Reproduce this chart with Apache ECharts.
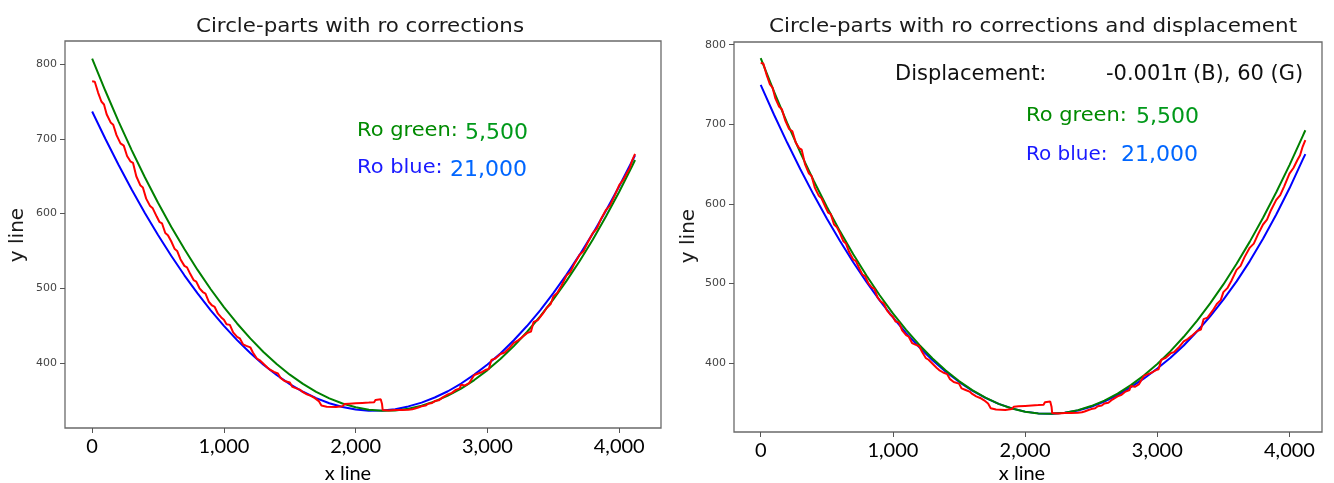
<!DOCTYPE html>
<html>
<head>
<meta charset="utf-8">
<script src="https://cdn.jsdelivr.net/npm/echarts@6/dist/echarts.min.js"></script>
<style>
  html, body { margin: 0; padding: 0; background: #fff; }
  #chart { width: 1334px; height: 483px; }
</style>
</head>
<body>
<div id="chart"></div>
<script>
// x positions of the fitted circle parts
var fitX = [0,100,200,300,400,500,600,700,800,900,1000,1100,1200,1300,1400,1500,1600,1700,1800,1900,
  2000,2100,2200,2300,2400,2500,2600,2700,2800,2900,3000,3100,3200,3300,3400,3500,3600,3700,3800,3900,4000,4100,4120];

// left panel: ro corrections only
var leftGreen = [807.5,764.4,723.5,685.0,648.7,614.5,582.5,552.5,524.6,498.7,474.8,452.9,432.9,414.8,398.7,384.4,372.1,361.4,352.7,345.8,
  340.7,337.5,336.1,336.5,338.7,342.7,348.6,356.3,365.8,377.2,390.5,405.6,422.6,441.5,462.3,485.1,509.9,536.6,565.4,596.3,629.3,664.4,671.7];
var leftBlue = [736.7,700.1,665.3,632.2,600.9,571.3,543.5,517.4,493.1,470.5,449.7,430.6,413.3,397.7,383.9,371.8,361.5,352.9,346.1,341.0,
  337.7,336.1,336.3,338.2,341.9,347.0,353.8,362.2,372.5,384.5,398.0,413.0,430.5,449.5,470.5,493.5,518.5,545.0,573.5,604.0,636.5,671.0,678.0];

// right panel: ro corrections and displacement
var rightGreen = [783.0,741.2,701.7,664.4,629.3,596.3,565.4,536.6,509.9,485.1,462.3,441.5,422.6,405.6,390.5,377.2,365.8,356.3,348.6,342.7,
  338.7,336.5,336.1,337.5,340.7,345.8,352.7,361.4,372.1,384.4,398.7,414.8,432.9,452.9,474.8,498.7,524.6,552.5,582.5,614.5,648.7,685.0,692.5];
var rightBlue = [749.4,712.3,677.0,643.5,611.6,581.6,553.2,526.6,501.7,478.6,457.2,437.5,419.6,403.4,389.0,376.3,365.3,356.1,348.6,342.9,
  338.8,336.6,336.0,337.3,340.3,345.0,351.5,359.5,369.5,380.5,393.0,406.5,422.0,439.5,458.5,479.5,502.5,528.0,556.0,586.5,619.5,655.5,662.5];

// measured line (red), same in both panels
var redX = [0,20,45,70,90,110,140,160,185,215,240,265,290,310,335,365,385,410,440,460,490,510,530,555,575,600,625,645,670,700,
  720,745,770,790,815,840,860,885,910,930,955,980,1000,1020,1045,1070,1100,1120,1145,1170,1200,1220,1250,1270,1300,1330,1350,
  1380,1410,1430,1460,1500,1520,1550,1580,1600,1630,1660,1690,1720,1740,1780,1850,1900,1915,1950,2000,2050,2100,2140,2150,2190,
  2200,2205,2250,2300,2350,2400,2430,2450,2475,2500,2530,2550,2580,2600,2630,2660,2700,2730,2760,2790,2800,2830,2860,2900,2930,
  2960,2990,3010,3030,3060,3100,3130,3160,3200,3230,3260,3300,3330,3350,3380,3420,3450,3480,3500,3530,3560,3600,3630,3660,3700,
  3730,3760,3800,3830,3860,3900,3930,3960,4000,4030,4060,4080,4100,4120];
var redY = [777,776.5,762,750,746,733,722,719,705,694,691,677,670,668,650,638,635,620,610,607,596,589,587,574,571,563,553,550,539,530,
  528,519,511,509,500,495,493,482,477,475,466,461,458,452,451,441,435,433,425,423,421,414,406,404,399,394,391,
  388,386,380,376,374,368,366,364,361,358,356,353,349,343,341.5,341,342,345,345.5,346,346.5,347,347.5,350.5,351.5,
  345,337,336.5,337,337,337.5,338,339,340.5,342,343,345.5,346.5,349,350,354,358,360,364,366,371,370,373,384,386,
  388,391,392,404,406,412,414,419,427,430,434,440,442,455,457,466,474,479,489,494,503,517,522,533,545,
  550,561,574,580,592,605,611,622,638,645,655,661,672,680];

var xTicks = [0, 1000, 2000, 3000, 4000];
var xTickLabels = ['0', '1,000', '2,000', '3,000', '4,000'];
var yTicks = [400, 500, 600, 700, 800];

function pairs(xs, ys) {
  return xs.map(function (x, i) { return [x, ys[i]]; });
}

var chart = echarts.init(document.getElementById('chart'), null, { renderer: 'canvas' });

function xAxisFor(idx, min, max) {
  return {
    gridIndex: idx, type: 'value', min: min, max: max,
    axisLine: { show: false, onZero: false },
    splitLine: { show: false },
    axisTick: { show: true, customValues: xTicks, length: 5, lineStyle: { color: '#555', width: 1 } },
    axisLabel: {
      customValues: xTicks, margin: 9, color: '#000', fontFamily: 'Lato', fontSize: 20,
      formatter: function (v) { return xTickLabels[xTicks.indexOf(v)]; }
    }
  };
}
function yAxisFor(idx, min, max) {
  return {
    gridIndex: idx, type: 'value', min: min, max: max,
    axisLine: { show: false, onZero: false },
    splitLine: { show: false },
    axisTick: { show: true, customValues: yTicks, length: 5, lineStyle: { color: '#555', width: 1 } },
    axisLabel: { customValues: yTicks, margin: 8, color: '#444', fontFamily: 'DejaVu Sans', fontSize: 11 }
  };
}
function line(idx, xs, ys, color) {
  return {
    type: 'line', xAxisIndex: idx, yAxisIndex: idx, data: pairs(xs, ys),
    showSymbol: false, symbol: 'none', smooth: false,
    lineStyle: { color: color, width: 2 }
  };
}
function txt(x, y, s, color, size, font, align, sx) {
  return {
    type: 'text', x: x, y: y, scaleX: sx || 1,
    style: { text: s, fill: color, fontSize: size, fontFamily: font || 'DejaVu Sans',
      align: align || 'left', verticalAlign: 'middle' }
  };
}

var option = {
  animation: false,
  backgroundColor: '#fff',
  grid: [
    { left: 65, top: 41, width: 596, height: 387, show: true, borderColor: '#6a6a6a', borderWidth: 1.3,
      containLabel: false, outerBoundsMode: 'none' },
    { left: 734, top: 42, width: 588, height: 390, show: true, borderColor: '#6a6a6a', borderWidth: 1.3,
      containLabel: false, outerBoundsMode: 'none' }
  ],
  xAxis: [xAxisFor(0, -206, 4317), xAxisFor(1, -202, 4246)],
  yAxis: [yAxisFor(0, 313, 831), yAxisFor(1, 313.2, 803.4)],
  series: [
    line(0, fitX, leftBlue, '#0000ff'),
    line(0, fitX, leftGreen, '#008000'),
    line(0, redX, redY, '#ff0000'),
    line(1, fitX, rightBlue, '#0000ff'),
    line(1, fitX, rightGreen, '#008000'),
    line(1, redX, redY, '#ff0000')
  ],
  graphic: [
    txt(360, 27, 'Circle-parts with ro corrections', '#1a1a1a', 19.5, 'DejaVu Sans', 'center', 1.095),
    txt(1033, 27, 'Circle-parts with ro corrections and displacement', '#1a1a1a', 19.5, 'DejaVu Sans', 'center', 1.1),
    txt(348, 474, 'x line', '#000', 20, 'Lato', 'center'),
    txt(1022, 474, 'x line', '#000', 20, 'Lato', 'center'),
    {
      type: 'text', x: 18, y: 235, rotation: Math.PI / 2,
      style: { text: 'y line', fill: '#1a1a1a', fontSize: 20, fontFamily: 'DejaVu Sans', align: 'center', verticalAlign: 'middle' }
    },
    {
      type: 'text', x: 689, y: 236, rotation: Math.PI / 2,
      style: { text: 'y line', fill: '#1a1a1a', fontSize: 20, fontFamily: 'DejaVu Sans', align: 'center', verticalAlign: 'middle' }
    },
    txt(357, 131, 'Ro green:', '#008a00', 20, 'DejaVu Sans', 'left', 1.05),
    txt(465, 133, '5,500', '#00991a', 22),
    txt(357, 168, 'Ro blue:', '#1a1aff', 20, 'DejaVu Sans', 'left', 1.05),
    txt(450, 170, '21,000', '#0066ff', 22),
    txt(895, 75, 'Displacement:', '#111', 21),
    txt(1106, 75, '-0.001\u03c0 (B), 60 (G)', '#111', 21),
    txt(1026, 116, 'Ro green:', '#008a00', 20, 'DejaVu Sans', 'left', 1.05),
    txt(1136, 117, '5,500', '#00991a', 22),
    txt(1026, 155, 'Ro blue:', '#1a1aff', 20),
    txt(1121, 155, '21,000', '#0066ff', 22)
  ]
};
chart.setOption(option);
</script>
</body>
</html>
